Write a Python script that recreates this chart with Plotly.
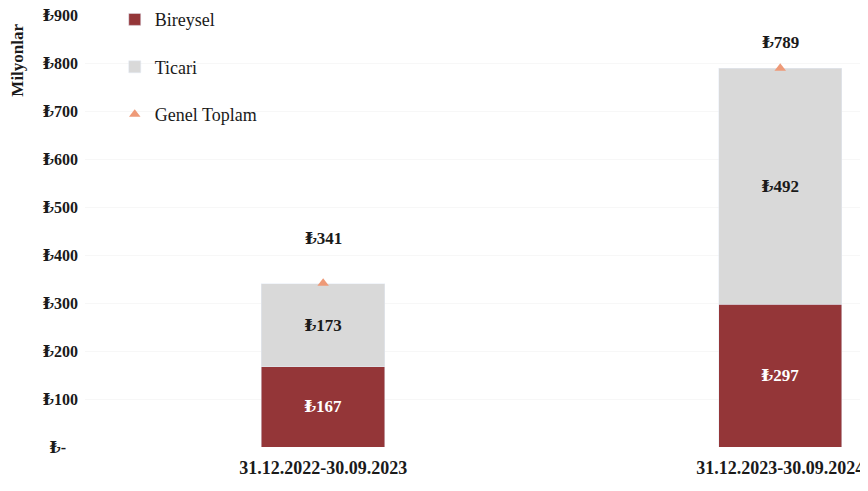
import plotly.graph_objects as go

categories = ["31.12.2022-30.09.2023", "31.12.2023-30.09.2024"]
bireysel = [167, 297]
ticari = [173, 492]
genel_toplam = [341, 789]
y_ticks = [0, 100, 200, 300, 400, 500, 600, 700, 800, 900]
y_tick_labels = ["₺-\u00a0\u00a0\u00a0", "₺100", "₺200", "₺300", "₺400", "₺500", "₺600", "₺700", "₺800", "₺900"]

FONT = "Liberation Serif, DejaVu Serif, serif"
RED = "#943638"
GRAY = "#D9D9D9"
ORANGE = "#EE9A78"
TXT = "#1a1a1a"

fig = go.Figure()
fig.add_trace(go.Bar(
    x=categories, y=bireysel, name="Bireysel", legendgroup="a",
    marker=dict(color=RED),
    text=[f"₺{v}" for v in bireysel], textposition="inside",
    insidetextanchor="middle",
    textfont=dict(family=FONT, size=17, color="white", weight="bold"),
    width=0.27,
))
fig.add_trace(go.Bar(
    x=categories, y=ticari, name="Ticari", legendgroup="b",
    marker=dict(color=GRAY),
    text=[f"₺{v}" for v in ticari], textposition="inside",
    insidetextanchor="middle",
    textfont=dict(family=FONT, size=17, color=TXT, weight="bold"),
    width=0.27,
))
fig.add_trace(go.Scatter(
    x=categories, y=genel_toplam, name="Genel Toplam", legendgroup="c",
    mode="markers",
    marker=dict(symbol="triangle-up", color=ORANGE, size=10),
))

label_shift = [45, 26]
for c, v, s in zip(categories, genel_toplam, label_shift):
    fig.add_annotation(x=c, y=v, text=f"₺{v}", showarrow=False, yshift=s,
                       font=dict(family=FONT, size=17, color=TXT, weight="bold"))

fig.add_annotation(xref="paper", yref="paper", x=-0.0856, y=0.8966,
                   text="Milyonlar", textangle=-90, showarrow=False,
                   xanchor="center", yanchor="middle",
                   font=dict(family=FONT, size=17, color=TXT, weight="bold"))

fig.update_layout(
    width=860, height=483,
    barmode="stack",
    plot_bgcolor="white", paper_bgcolor="white",
    margin=dict(l=77, r=0, t=7, b=44, autoexpand=False),
    font=dict(family=FONT, color=TXT),
    legend=dict(
        x=0.038, y=1.032, xanchor="left", yanchor="top",
        bgcolor="rgba(0,0,0,0)",
        font=dict(family=FONT, size=18, color=TXT),
        traceorder="grouped", tracegroupgap=21,
        itemwidth=30,
    ),
    showlegend=True,
)
fig.update_xaxes(
    range=[-0.521, 1.192], showgrid=False, showline=False, ticks="",
    tickfont=dict(family=FONT, size=18, color=TXT, weight="bold"),
    ticklabelstandoff=8,
)
fig.update_yaxes(
    range=[0, 900], tickvals=y_ticks, ticktext=y_tick_labels,
    showgrid=True, gridcolor="#F7F7F7", zeroline=False, showline=False,
    tickfont=dict(family=FONT, size=16, color=TXT, weight="bold"),
    ticklabelstandoff=6, ticklabeloverflow="allow",
)

fig.write_html("out.html")
